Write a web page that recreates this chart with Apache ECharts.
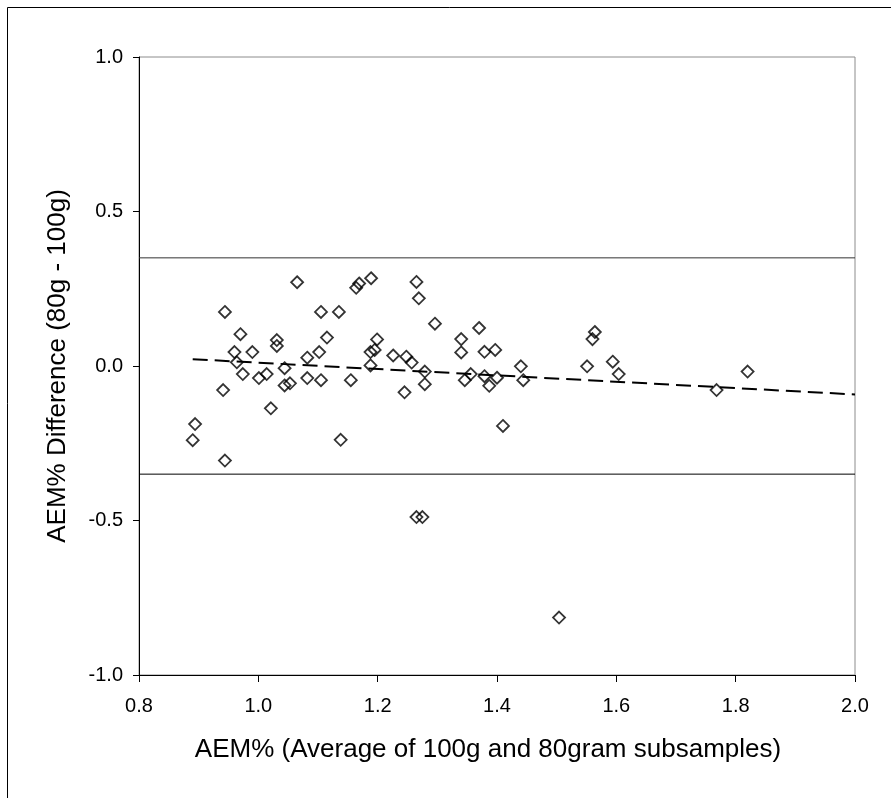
<!DOCTYPE html>
<html>
<head>
<meta charset="utf-8">
<script src="https://cdn.jsdelivr.net/npm/echarts@6/dist/echarts.min.js"></script>
<style>
html,body{margin:0;padding:0;background:#fff;}
#chart{width:891px;height:798px;}
</style>
</head>
<body>
<div id="chart"></div>
<script>
// AEM% average (x) and difference (y) of the subsamples
const avgAEM = [
  0.890, 0.894, 0.941, 0.944, 0.944, 0.960, 0.964, 0.970, 0.974, 0.990,
  1.001, 1.014, 1.021, 1.031, 1.031, 1.044, 1.044, 1.053, 1.065, 1.082,
  1.082, 1.102, 1.105, 1.105, 1.115, 1.135, 1.138, 1.155, 1.164, 1.169,
  1.188, 1.188, 1.189, 1.195, 1.199, 1.226, 1.245, 1.248, 1.257, 1.265,
  1.265, 1.269, 1.275, 1.279, 1.279, 1.296, 1.340, 1.340, 1.346, 1.356,
  1.370, 1.379, 1.379, 1.387, 1.397, 1.400, 1.410, 1.440, 1.444, 1.504,
  1.551, 1.560, 1.564, 1.594, 1.604, 1.768, 1.820, 2.003
];
const diffAEM = [
  -0.240, -0.188, -0.078, 0.175, -0.306, 0.045, 0.012, 0.103, -0.026, 0.045,
  -0.039, -0.026, -0.137, 0.084, 0.065, -0.007, -0.063, -0.056, 0.271, 0.027,
  -0.039, 0.045, 0.175, -0.046, 0.092, 0.175, -0.239, -0.046, 0.253, 0.267,
  0.045, 0.002, 0.284, 0.052, 0.086, 0.034, -0.085, 0.030, 0.011, 0.272,
  -0.489, 0.219, -0.489, -0.018, -0.059, 0.137, 0.087, 0.044, -0.046, -0.026,
  0.123, 0.046, -0.033, -0.064, 0.052, -0.038, -0.194, -0.001, -0.046, -0.814,
  -0.001, 0.087, 0.110, 0.014, -0.026, -0.078, -0.018, -0.246
];
// limits of agreement
const limitX = [0.8, 2.0];
const upperLimit = [0.35, 0.35];
const lowerLimit = [-0.35, -0.35];
// trend line endpoints
const trendX = [0.89, 2.0];
const trendY = [0.022, -0.092];
// axes
const xMin = 0.8, xMax = 2.0, xStep = 0.2;
const yMin = -1.0, yMax = 1.0, yStep = 0.5;
const xTitle = 'AEM% (Average of 100g and 80gram subsamples)';
const yTitle = 'AEM% Difference (80g - 100g)';

const pts = avgAEM.map((x, i) => [x, diffAEM[i]]);
const up = limitX.map((x, i) => [x, upperLimit[i]]);
const lo = limitX.map((x, i) => [x, lowerLimit[i]]);
const tr = trendX.map((x, i) => [x, trendY[i]]);

const font = '"Liberation Sans", Arial, sans-serif';
const chart = echarts.init(document.getElementById('chart'), null, {renderer: 'canvas'});
chart.setOption({
  animation: false,
  backgroundColor: '#fff',
  graphic: [{
    type: 'rect', silent: true, z: 100,
    shape: {x: 7.5, y: 7.5, width: 1000, height: 1000},
    style: {fill: 'none', stroke: '#000', lineWidth: 1}
  }],
  grid: {left: 139, top: 57, right: 36, bottom: 123, show: true,
         borderColor: '#8c8c8c', borderWidth: 1, backgroundColor: '#fff'},
  xAxis: {
    type: 'value', min: xMin, max: xMax, interval: xStep, position: 'bottom',
    name: xTitle, nameLocation: 'middle', nameGap: 62,
    nameTextStyle: {fontFamily: font, fontSize: 26, color: '#000', padding: [0, 18, 0, 0]},
    axisLine: {show: true, onZero: false, lineStyle: {color: '#000', width: 1}},
    axisTick: {show: true, inside: false, length: 7, lineStyle: {color: '#000', width: 1}},
    axisLabel: {fontFamily: font, fontSize: 20, color: '#000', margin: 21,
                formatter: v => v.toFixed(1)},
    splitLine: {show: false}
  },
  yAxis: {
    type: 'value', min: yMin, max: yMax, interval: yStep,
    name: yTitle, nameLocation: 'middle', nameGap: 68,
    nameTextStyle: {fontFamily: font, fontSize: 26, color: '#000'},
    axisLine: {show: true, onZero: false, lineStyle: {color: '#000', width: 1}},
    axisTick: {show: true, inside: false, length: 6, lineStyle: {color: '#000'}},
    axisLabel: {fontFamily: font, fontSize: 20, color: '#000', margin: 16,
                formatter: v => v.toFixed(1)},
    splitLine: {show: false}
  },
  series: [{
    type: 'line', data: up, symbol: 'none', silent: true,
    lineStyle: {color: '#333', width: 1}
  }, {
    type: 'line', data: lo, symbol: 'none', silent: true,
    lineStyle: {color: '#000', width: 1}
  }, {
    type: 'line', data: tr, symbol: 'none', silent: true, z: 3,
    lineStyle: {color: '#000', width: 2, type: [15, 7]}
  }, {
    type: 'scatter', data: pts, symbol: 'diamond', symbolSize: 12, z: 4,
    itemStyle: {color: 'rgba(255,255,255,0)', borderColor: '#000', borderWidth: 1.8}
  }]
});
</script>
</body>
</html>
